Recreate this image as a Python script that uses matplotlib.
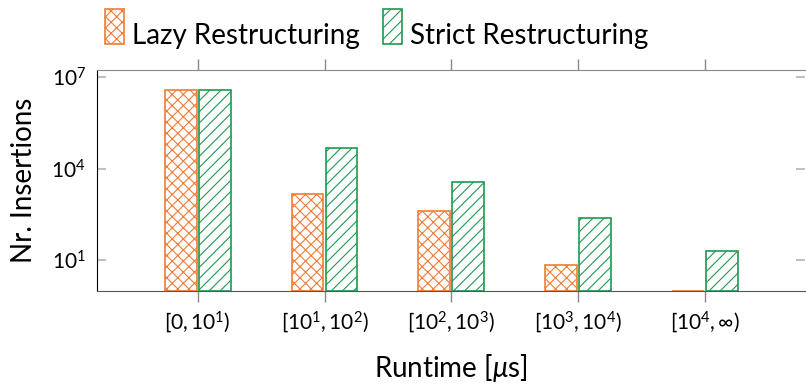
import numpy as np
import matplotlib
matplotlib.use('Agg')
import matplotlib.pyplot as plt
from matplotlib.ticker import NullLocator
from matplotlib.patches import Rectangle
from matplotlib.legend_handler import HandlerPatch

plt.rcParams['font.family'] = ['Lato', 'DejaVu Sans']
plt.rcParams['mathtext.fontset'] = 'custom'
plt.rcParams['mathtext.rm'] = 'Lato'
plt.rcParams['mathtext.it'] = 'Lato:italic'
plt.rcParams['mathtext.fallback'] = 'stixsans'
plt.rcParams['hatch.linewidth'] = 0.8

# Insertions per runtime bucket
buckets = [r'$[0, 10^1)$', r'$[10^1, 10^2)$', r'$[10^2, 10^3)$',
           r'$[10^3, 10^4)$', r'$[10^4, \infty)$']
lazy = [3.7e6, 1530, 420, 7.2, 0]
strict = [3.7e6, 47300, 3770, 234, 21]

orange = '#f47b35'
green = '#1e9a50'

fig = plt.figure(figsize=(8.06, 3.86), dpi=100)
ax = fig.add_axes([97 / 806, 95 / 386, 708 / 806, 221 / 386])

x = np.arange(len(buckets))
w = 0.25
base = 1.0
h_lazy = [max(v, base) - base for v in lazy]
h_strict = [max(v, base) - base for v in strict]
bars_lazy = ax.bar(x - 0.134, h_lazy, w, bottom=base, facecolor='white',
                   edgecolor=orange, hatch='xxx', linewidth=1.2)
bars_strict = ax.bar(x + 0.134, h_strict, w, bottom=base, facecolor='white',
                     edgecolor=green, hatch='///', linewidth=1.2)

ax.set_yscale('log')
ax.set_ylim(1, 10 ** 7.22)
ax.set_xlim(-0.795, 4.79)
ax.set_yticks([1e1, 1e4, 1e7])
ax.yaxis.set_minor_locator(NullLocator())
ax.set_xticks(x)
ax.set_xticklabels(buckets)

ax.tick_params(axis='x', direction='out', length=8, width=1, color='#888888',
               top=True, labelsize=15, pad=5)
ax.tick_params(axis='y', direction='in', length=6.5, width=1.5,
               color='#c0c0c0', right=True, labelsize=15, pad=8)

ax.spines['left'].set_color('black')
ax.spines['bottom'].set_color('#555555')
ax.spines['top'].set_color('#888888')
ax.spines['right'].set_visible(False)

ax.set_xlabel(r'Runtime [$\mathit{\mu}$s]', fontsize=20, labelpad=12)
ax.set_ylabel('Nr. Insertions', fontsize=20, labelpad=10)


# legend swatch standing on the text baseline, taller than the caps
def tall_swatch(legend, orig_handle, xdescent, ydescent, width, height,
                fontsize):
    return Rectangle((-xdescent, 0), width, 1.25 * fontsize)


fig.legend([bars_lazy.patches[0], bars_strict.patches[0]],
           ['Lazy Restructuring', 'Strict Restructuring'],
           loc='upper left', bbox_to_anchor=(105 / 806, 1 - 23 / 386),
           ncol=2, frameon=False, fontsize=20, borderpad=0,
           borderaxespad=0, handlelength=0.68, handleheight=0.7,
           handletextpad=0.29, columnspacing=0.83,
           handler_map={Rectangle: HandlerPatch(patch_func=tall_swatch)})

fig.savefig('out.png', dpi=100)
